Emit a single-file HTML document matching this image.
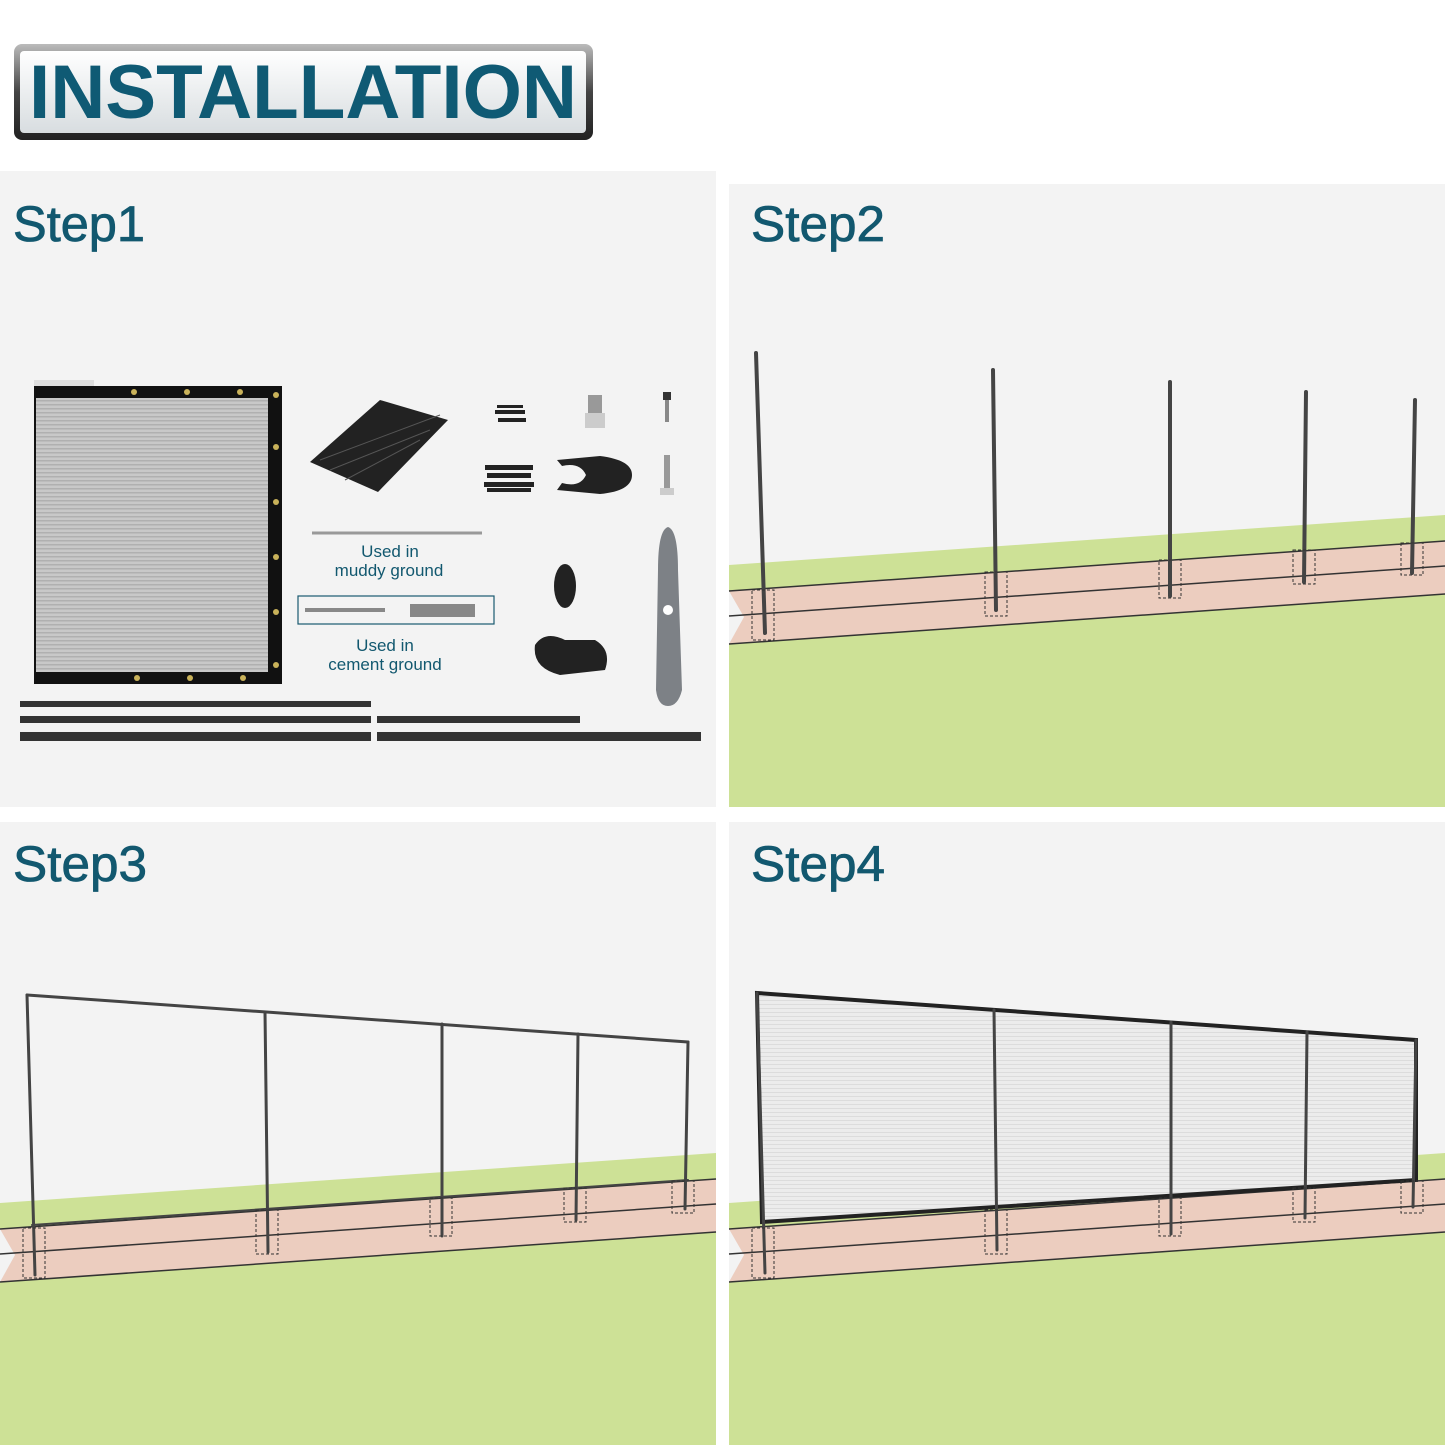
<!DOCTYPE html>
<html><head><meta charset="utf-8"><style>
html,body{margin:0;padding:0;background:#fff}
svg{display:block}
text{font-family:"Liberation Sans",sans-serif}
</style></head><body>
<svg width="1445" height="1445" viewBox="0 0 1445 1445" xmlns="http://www.w3.org/2000/svg">
<defs>
<linearGradient id="plate" x1="0" y1="0" x2="0" y2="1"><stop offset="0" stop-color="#ffffff"/><stop offset="1" stop-color="#d8dde0"/></linearGradient>
<linearGradient id="frame" x1="0" y1="0" x2="0" y2="1"><stop offset="0" stop-color="#bbb"/><stop offset=".5" stop-color="#444"/><stop offset="1" stop-color="#222"/></linearGradient>
<pattern id="mesh" width="6" height="4" patternUnits="userSpaceOnUse"><rect width="6" height="4" fill="#c8c8c8"/><rect width="6" height="1.5" fill="#b0b0b0"/></pattern>
<pattern id="mesh2" width="4" height="4" patternUnits="userSpaceOnUse"><rect width="4" height="4" fill="#ececec"/><rect width="4" height="1" fill="#dcdcdc"/></pattern>
<g id="ground">
<polygon points="729,565 1445,515 1445,807 729,807" fill="#cde196"/>
<polygon points="729,591 1445,541 1445,594 729,644" fill="#eccdbf"/>
<polygon points="729,591 744,617 729,644" fill="#f3f3f3"/>
<polyline points="729,591 1445,541" stroke="#333" stroke-width="1.5" fill="none"/>
<polyline points="729,616 1445,566" stroke="#333" stroke-width="1.5" fill="none"/>
<polyline points="729,644 1445,594" stroke="#333" stroke-width="1.5" fill="none"/>
</g>
</defs>
<rect x="14" y="44" width="579" height="96" rx="8" fill="url(#frame)"/>
<rect x="20" y="51" width="566" height="82" rx="4" fill="url(#plate)"/>
<text x="303" y="118" text-anchor="middle" font-size="76" font-weight="bold" fill="#0f5a74" textLength="548" lengthAdjust="spacingAndGlyphs">INSTALLATION</text>

<rect x="0" y="171" width="716" height="636" fill="#f3f3f3"/>
<rect x="729" y="184" width="716" height="623" fill="#f3f3f3"/>
<rect x="0" y="822" width="716" height="623" fill="#f3f3f3"/>
<rect x="729" y="822" width="716" height="623" fill="#f3f3f3"/>
<g font-size="50" fill="#12586f" stroke="#12586f" stroke-width="0.8">
<text x="13" y="241" textLength="132" lengthAdjust="spacingAndGlyphs">Step1</text>
<text x="751" y="241" textLength="134" lengthAdjust="spacingAndGlyphs">Step2</text>
<text x="13" y="881" textLength="134" lengthAdjust="spacingAndGlyphs">Step3</text>
<text x="751" y="881" textLength="134" lengthAdjust="spacingAndGlyphs">Step4</text>
</g>

<rect x="34" y="380" width="60" height="300" fill="#dedede"/>
<rect x="34" y="386" width="248" height="298" fill="#111"/>
<rect x="36" y="398" width="232" height="274" fill="url(#mesh)"/>
<g fill="#c9b25a"><circle cx="134" cy="392" r="3"/><circle cx="187" cy="392" r="3"/><circle cx="240" cy="392" r="3"/><circle cx="276" cy="395" r="3"/><circle cx="276" cy="447" r="3"/><circle cx="276" cy="502" r="3"/><circle cx="276" cy="557" r="3"/><circle cx="276" cy="612" r="3"/><circle cx="276" cy="665" r="3"/><circle cx="137" cy="678" r="3"/><circle cx="190" cy="678" r="3"/><circle cx="243" cy="678" r="3"/></g>
<polygon points="310,462 380,400 448,420 378,492" fill="#222"/>
<g stroke="#555" stroke-width="1"><line x1="320" y1="460" x2="440" y2="415"/><line x1="330" y1="470" x2="430" y2="430"/><line x1="345" y1="480" x2="420" y2="440"/></g>
<g fill="#222"><rect x="495" y="410" width="30" height="4"/><rect x="497" y="405" width="26" height="3"/><rect x="498" y="418" width="28" height="4"/>
<rect x="485" y="465" width="48" height="5"/><rect x="487" y="473" width="44" height="5"/><rect x="484" y="482" width="50" height="5"/><rect x="487" y="488" width="44" height="4"/>
<path d="M557,460 L600,456 Q632,460 632,475 Q632,491 600,494 L557,490 L562,483 Q580,488 586,475 Q580,462 562,466 Z"/>
<ellipse cx="565" cy="586" rx="11" ry="22"/>
<path d="M535,645 Q545,630 565,640 L595,640 Q612,650 605,670 L560,675 Q532,668 535,645 Z"/></g>
<rect x="588" y="395" width="14" height="18" fill="#999"/><rect x="585" y="413" width="20" height="15" fill="#ccc"/>
<rect x="663" y="392" width="8" height="8" fill="#333"/><rect x="665" y="400" width="4" height="22" fill="#888"/>
<rect x="664" y="455" width="6" height="35" fill="#999"/><rect x="660" y="488" width="14" height="7" fill="#ccc"/>
<path d="M668,527 Q678,530 678,570 L682,690 Q678,706 668,706 Q658,706 656,690 L658,570 Q658,530 668,527 Z" fill="#7d8186"/>
<circle cx="668" cy="610" r="5" fill="#fff"/>
<line x1="312" y1="533" x2="482" y2="533" stroke="#999" stroke-width="3"/>
<rect x="298" y="596" width="196" height="28" fill="none" stroke="#1a5a70" stroke-width="1.2"/>
<line x1="305" y1="610" x2="385" y2="610" stroke="#888" stroke-width="4"/>
<polygon points="410,604 475,604 475,617 410,617" fill="#888"/>
<g font-size="17" fill="#12586f" text-anchor="middle">
<text x="390" y="557">Used in</text><text x="389" y="576">muddy ground</text>
<text x="385" y="651">Used in</text><text x="385" y="670">cement ground</text></g>
<g fill="#333"><rect x="20" y="701" width="351" height="6"/><rect x="20" y="716" width="351" height="7"/><rect x="20" y="732" width="351" height="9"/><rect x="377" y="716" width="203" height="7"/><rect x="377" y="732" width="324" height="9"/></g>

<use href="#ground"/>
<g stroke="#444" stroke-width="4" stroke-linecap="round">
<line x1="756" y1="353" x2="765" y2="633"/><line x1="993" y1="370" x2="996" y2="610"/><line x1="1170" y1="382" x2="1170" y2="596"/><line x1="1306" y1="392" x2="1304" y2="582"/><line x1="1415" y1="400" x2="1412" y2="573"/></g>
<g fill="none" stroke="#333" stroke-dasharray="3,2"><rect x="752" y="590" width="22" height="50"/><rect x="985" y="572" width="22" height="44"/><rect x="1159" y="560" width="22" height="38"/><rect x="1293" y="550" width="22" height="34"/><rect x="1401" y="543" width="22" height="32"/></g>

<use href="#ground" transform="translate(-729,638)"/>
<g stroke="#444" stroke-width="3" stroke-linecap="round" fill="none">
<line x1="27" y1="995" x2="688" y2="1042"/><line x1="32" y1="1225" x2="688" y2="1180" stroke-width="2"/>
<line x1="27" y1="995" x2="35" y2="1275"/><line x1="265" y1="1012" x2="268" y2="1252"/><line x1="442" y1="1024" x2="442" y2="1236"/><line x1="578" y1="1034" x2="576" y2="1220"/><line x1="688" y1="1042" x2="685" y2="1209"/></g>
<g fill="none" stroke="#333" stroke-dasharray="3,2"><rect x="23" y="1228" width="22" height="50"/><rect x="256" y="1210" width="22" height="44"/><rect x="430" y="1198" width="22" height="38"/><rect x="564" y="1188" width="22" height="34"/><rect x="672" y="1181" width="22" height="32"/></g>

<use href="#ground" transform="translate(0,638)"/>
<polygon points="757,993 1416,1040 1416,1180 762,1222" fill="url(#mesh2)" stroke="#222" stroke-width="4"/>
<g stroke="#444" stroke-width="3" stroke-linecap="round">
<line x1="757" y1="993" x2="765" y2="1273"/><line x1="994" y1="1010" x2="997" y2="1250"/><line x1="1171" y1="1022" x2="1171" y2="1234"/><line x1="1307" y1="1032" x2="1305" y2="1218"/><line x1="1416" y1="1040" x2="1413" y2="1207"/></g>
<g fill="none" stroke="#333" stroke-dasharray="3,2"><rect x="752" y="1228" width="22" height="50"/><rect x="985" y="1210" width="22" height="44"/><rect x="1159" y="1198" width="22" height="38"/><rect x="1293" y="1188" width="22" height="34"/><rect x="1401" y="1181" width="22" height="32"/></g>
</svg>
</body></html>
